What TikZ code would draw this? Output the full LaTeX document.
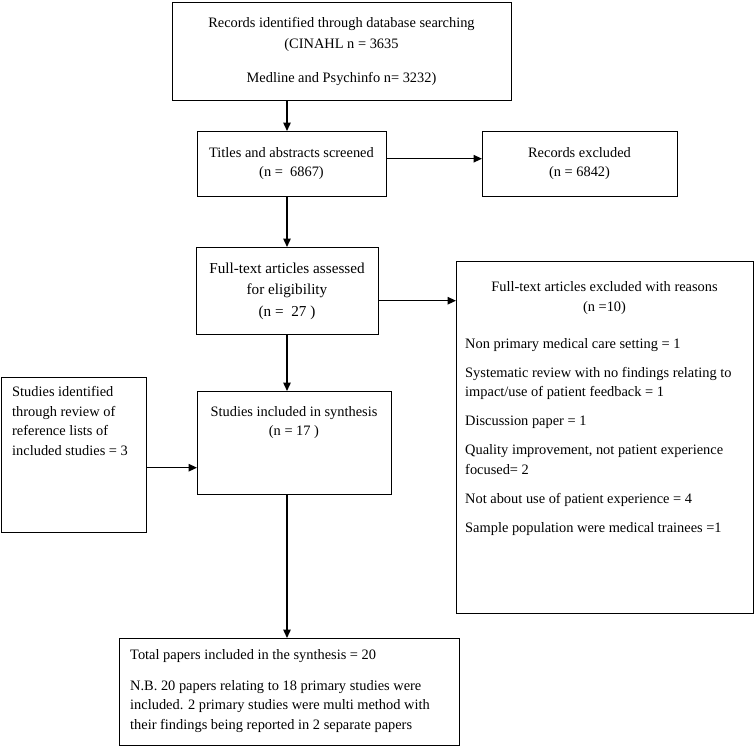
\documentclass[tikz,border=0pt]{standalone}
\usepackage{fontspec}
\setmainfont{Liberation Serif}
\usetikzlibrary{arrows.meta,calc}
\tikzset{
  box/.style={draw, line width=1.4pt, inner sep=0pt, anchor=north west},
  txt/.style={font=\fontsize{14.4}{19.5}\selectfont, inner sep=0pt},
  bigtxt/.style={font=\fontsize{15.2}{21.5}\selectfont, inner sep=0pt},
  arr/.style={line width=1.4pt, -{Triangle[length=8.5pt,width=7.5pt]}},
}
\begin{document}
\begin{tikzpicture}[x=1pt,y=1pt]
\useasboundingbox (0,0) rectangle (755,-747);
\coordinate (spine) at (287,0);
% boxes
\node[box, minimum width=339, minimum height=98] (b1) at (172,-2) {};
\node[box, minimum width=189, minimum height=65] (b2) at (197,-131) {};
\node[box, minimum width=195, minimum height=65] (b3) at (482,-131) {};
\node[box, minimum width=182, minimum height=87] (b4) at (196,-247) {};
\node[box, minimum width=297, minimum height=352] (b5) at (456,-261) {};
\node[box, minimum width=145, minimum height=155] (b6) at (1,-377) {};
\node[box, minimum width=194, minimum height=103] (b7) at (197,-391) {};
\node[box, minimum width=340, minimum height=107] (b8) at (119,-638) {};
% texts
\node[txt, anchor=north, align=center] (t1) at (341.5,-17)
  {Records identified through database searching\\[1.5pt] (CINAHL n = 3635\\[15pt] Medline and Psychinfo n= 3232)};
\node[txt, anchor=north, align=center] (t2) at (291.5,-147)
  {Titles and abstracts screened\\ (n =\ \ 6867)};
\node[txt, anchor=north, align=center] (t3) at (579.5,-147)
  {Records excluded\\ (n = 6842)};
\node[bigtxt, anchor=north, align=center] (t4) at (287,-262.5)
  {Full-text articles assessed\\ for eligibility\\ (n =\ \ 27 )};
\node[txt, anchor=north, align=center] (t5h) at (604.5,-281.5)
  {Full-text articles excluded with reasons\\ (n =10)};
\node[txt, anchor=north west, align=left] (t5) at (465,-338)
  {Non primary medical care setting = 1\\[9.5pt]
   Systematic review with no findings relating to\\
   impact/use of patient feedback = 1\\[9.5pt]
   Discussion paper = 1\\[9.5pt]
   Quality improvement, not patient experience\\
   focused= 2\\[9.5pt]
   Not about use of patient experience = 4\\[9.5pt]
   Sample population were medical trainees =1};
\node[txt, anchor=north west, align=left] (t6) at (12,-386.5)
  {Studies identified\\ through review of\\ reference lists of\\ included studies = 3};
\node[txt, anchor=north, align=center] (t7) at (294,-406)
  {Studies included in synthesis\\ (n = 17 )};
\node[txt, anchor=north west, align=left] (t8) at (130,-649.5)
  {Total papers included in the synthesis = 20\\[11pt]
   N.B. 20 papers relating to 18 primary studies were\\
   included. 2 primary studies were multi method with\\
   their findings being reported in 2 separate papers};
% connectors
\draw[arr] (b1.south -| spine) -- (b2.north -| spine);
\draw[arr] ($(b2.east)+(0,5.5)$) -- ($(b3.west)+(0,5.5)$);
\draw[arr] (b2.south -| spine) -- (b4.north -| spine);
\draw[arr] ($(b4.east)+(0,-9.5)$) -- (b5.west |- {$(b4.east)+(0,-9.5)$});
\draw[arr] (b4.south -| spine) -- (b7.north -| spine);
\draw[arr] ($(b6.west)+(145,-12.5)$) -- (b7.west |- {$(b6.west)+(0,-12.5)$});
\draw[arr] (b7.south -| spine) -- (b8.north -| spine);
\end{tikzpicture}
\end{document}
